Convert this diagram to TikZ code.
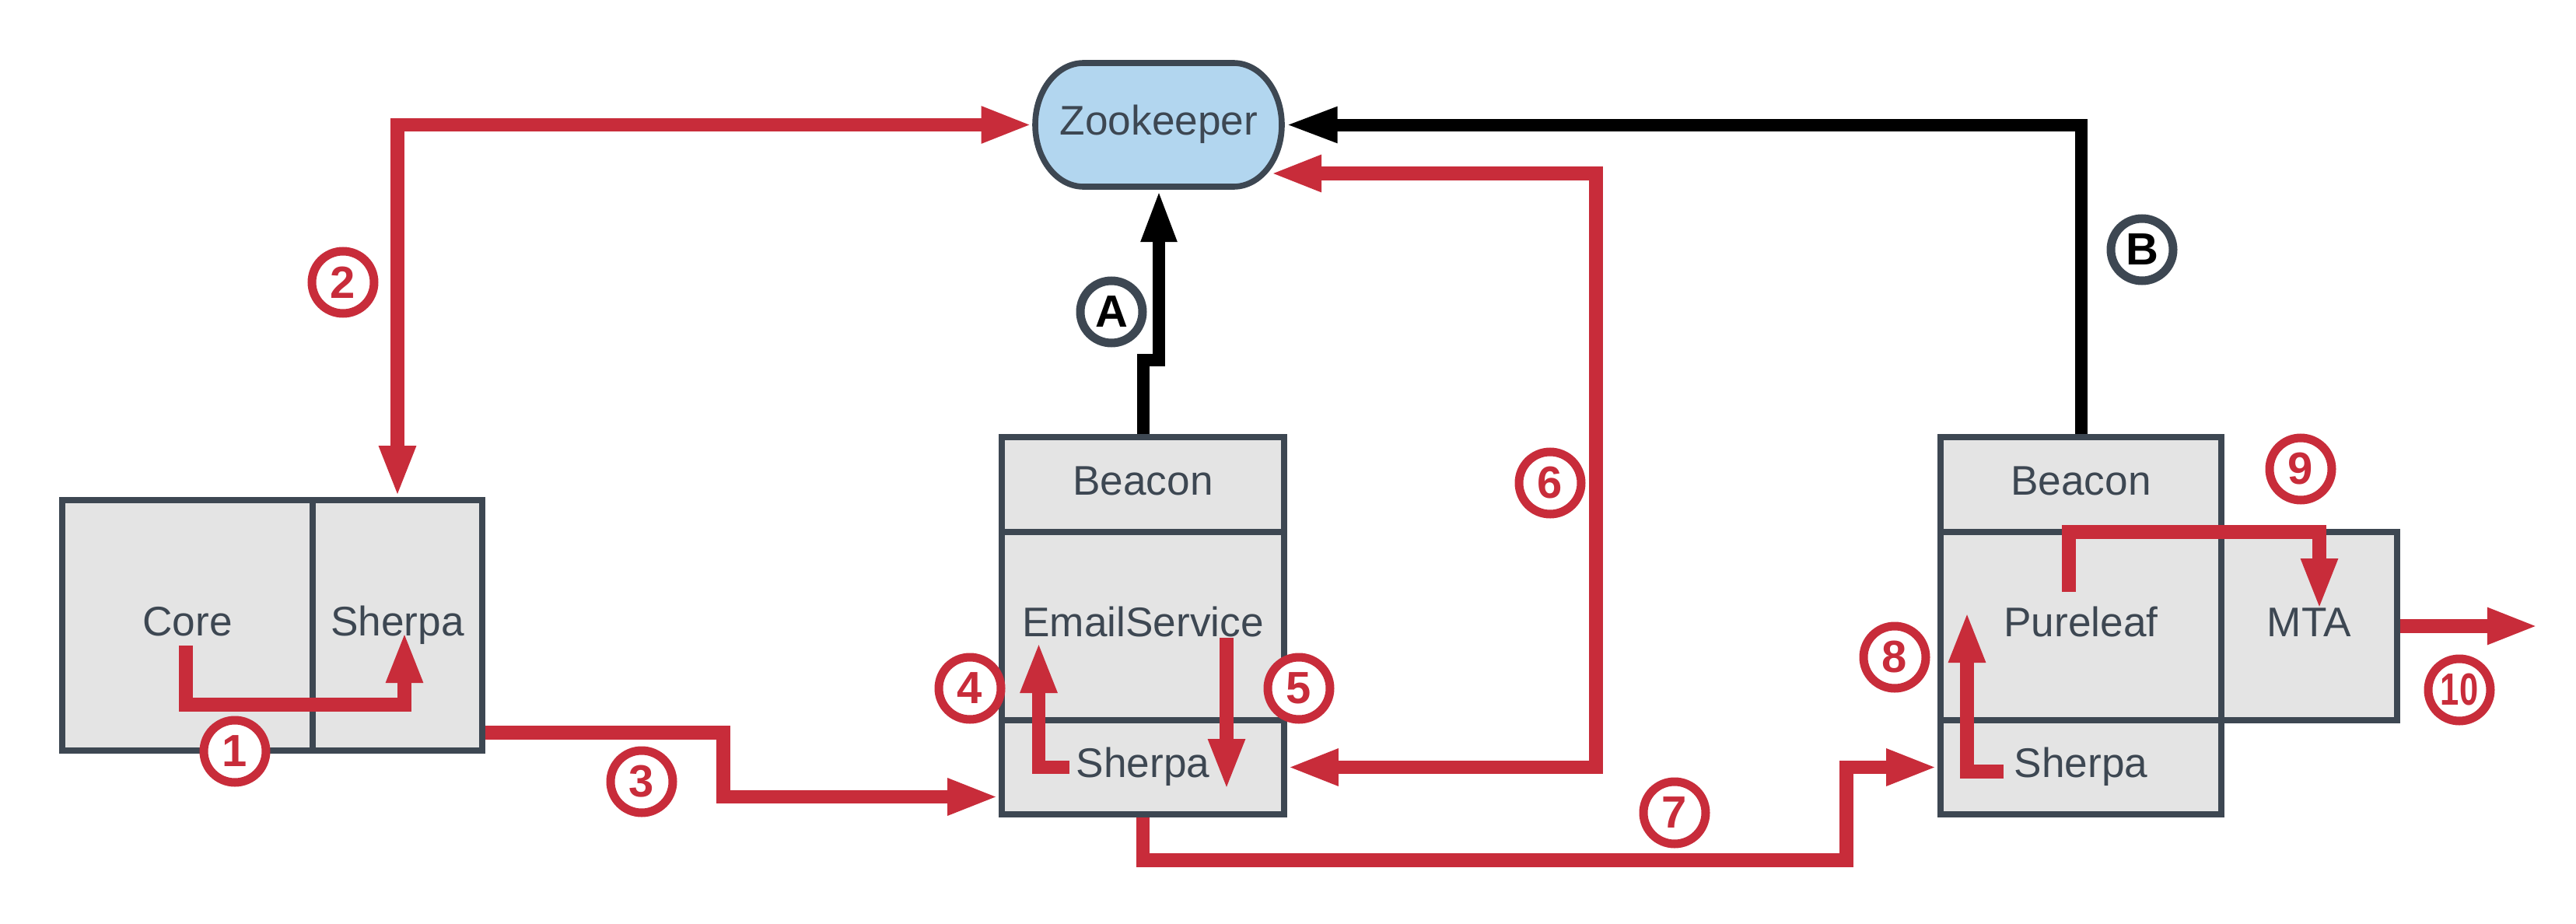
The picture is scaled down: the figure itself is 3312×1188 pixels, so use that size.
\documentclass[tikz,border=0pt]{standalone}
\usepackage{fontspec}
\setmainfont{Liberation Sans}
\usepackage{graphicx}
\usetikzlibrary{arrows.meta,calc}
\definecolor{myred}{HTML}{C82C3A}
\definecolor{dark}{HTML}{3D4752}
\definecolor{boxfill}{HTML}{E4E4E4}
\definecolor{zkfill}{HTML}{B2D6EF}
\begin{document}
\begin{tikzpicture}[x=0.25pt,y=-0.25pt,
  lbl/.style={text=dark, font=\fontsize{13.3}{15}\selectfont, text height=9.5pt, text depth=3pt},
  box/.style={lbl, draw=dark, fill=boxfill, line width=1.9pt, inner sep=0pt},
  redarr/.style={draw=myred, line width=4.4pt, >={Triangle[length=16.5pt,width=10.75pt]}},
  blkarr/.style={draw=black, line width=4pt, >={Triangle[length=16.75pt,width=10.5pt]}},
  badge/.style={circle, draw=myred, fill=white, line width=2.75pt, minimum size=20pt, inner sep=0pt, text=myred, font=\fontsize{14.5}{14.5}\selectfont\bfseries},
  badgek/.style={badge, draw=dark, text=black}]
\useasboundingbox (0,0) rectangle (3312,1188);

% Zookeeper
\draw[draw=dark, fill=zkfill, line width=1.9pt] (1393,81) -- (1586,81) .. controls (1620.2,81) and (1648,116.6) .. (1648,160.5) .. controls (1648,204.4) and (1620.2,240) .. (1586,240) -- (1393,240) .. controls (1358.8,240) and (1331,204.4) .. (1331,160.5) .. controls (1331,116.6) and (1358.8,81) .. (1393,81) -- cycle;
\node[lbl, minimum width=81.25pt, minimum height=41.75pt, inner sep=0pt, outer sep=0pt] (zk) at (1490,160.5) {Zookeeper};

% left box
\node[box, minimum width=80.5pt, minimum height=80.5pt] (lc) at (241,804) {Core};
\node[box, minimum width=54.5pt, minimum height=80.5pt] (ls) at (511,804) {Sherpa};

% middle box
\node[box, minimum width=90.75pt, minimum height=30.5pt] (mb) at (1469.5,623) {Beacon};
\node[box, minimum width=90.75pt, minimum height=60.5pt] (me) at (1469.5,805) {EmailService};
\node[box, minimum width=90.75pt, minimum height=30.25pt] (ms) at (1469.5,986.5) {Sherpa};

% right box
\node[box, minimum width=90.25pt, minimum height=30.5pt] (rb) at (2675.5,623) {Beacon};
\node[box, minimum width=90.25pt, minimum height=60.5pt] (rp) at (2675.5,805) {Pureleaf};
\node[box, minimum width=90.25pt, minimum height=30.25pt] (rs) at (2675.5,986.5) {Sherpa};
\node[box, minimum width=56.5pt, minimum height=60.5pt] (mta) at (2969,805) {MTA};

% black arrows
\draw[blkarr,->] (mb.north) -- ++(0,-95) -| (zk.south);
\draw[blkarr,->] (rb.north) |- (zk.east);

% red arrows
\draw[redarr,<->] (zk.west) -| (ls.north);
\draw[redarr,->] ($(lc.center)+(-2,26)$) -- ++(0,76) -| ($(ls.center)+(9,8)$);
\draw[redarr,->] ([yshift=6.75pt]ls.south east) -- ++(306,0) |- ([yshift=-9.5pt]ms.west);
\draw[redarr,->] ($(ms.center)+(-95,0)$) -| ($(me.center)+(-134,20)$);
\draw[redarr,->] ($(me.center)+(107.5,15)$) -- ($(ms.center)+(107.5,29.5)$);
\coordinate (z6) at (1633,223);
\coordinate (c6) at (2052,223);
\draw[redarr,<->] (z6) -- (c6) |- (ms.east);
\coordinate (c7) at (2374,1106);
\draw[redarr,->] (ms.south) |- (c7) |- (rs.west);
\draw[redarr,->] ($(rs.center)+(-99.5,5.5)$) -| ($(rp.center)+(-146.5,-19)$);
\draw[redarr,->] ($(rp.center)+(-15.5,-44)$) |- ($(mta.north)+(13,4)$) -- ($(mta.center)+(13,-21)$);
\draw[redarr,->] (mta.east) -- ++(178,0);

% badges
\node[badge] (n1) at (302,966) {1};
\node[badge] (n2) at (441,363) {2};
\node[badge] (n3) at (825,1005) {3};
\node[badge] (n4) at (1247,885) {4};
\node[badge] (n5) at (1670,885) {5};
\node[badge] (n6) at (1993,621) {6};
\node[badge] (n7) at (2153,1045) {7};
\node[badge] (n8) at (2436,845) {8};
\node[badge] (n9) at (2958,603) {9};
\node[badge] (n10) at (3162,887) {\scalebox{0.75}[1]{10}};
\node[badgek] (nA) at (1429,401) {A};
\node[badgek] (nB) at (2754,321) {B};
\end{tikzpicture}
\end{document}
